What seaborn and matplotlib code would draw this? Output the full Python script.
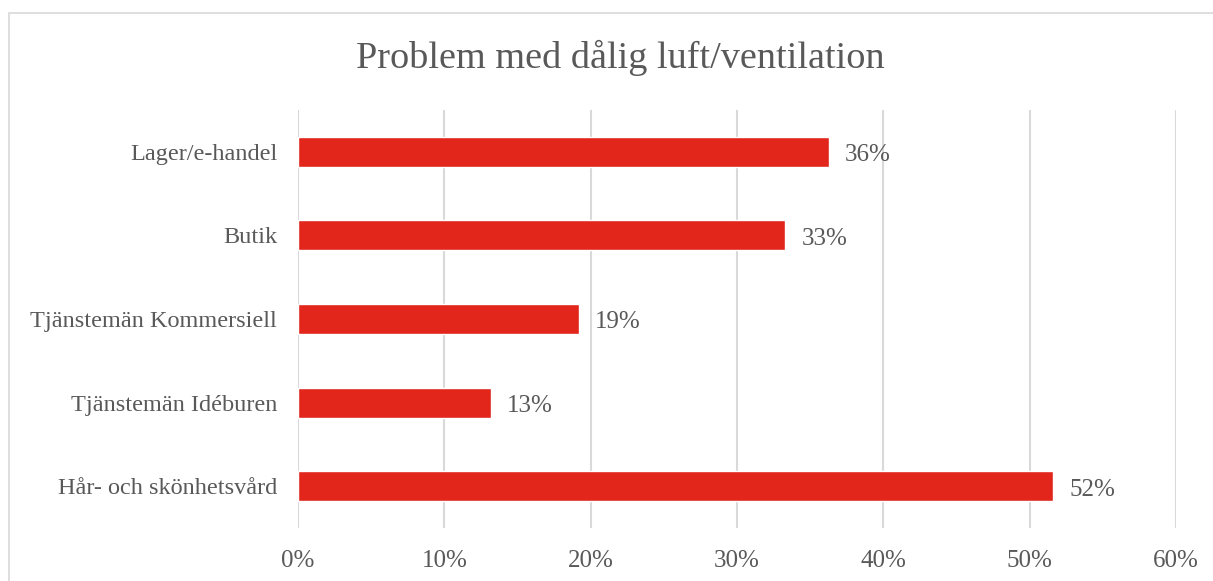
import matplotlib.pyplot as plt
import matplotlib.patches as mpatches
import pandas as pd
import seaborn as sns

# Data (share of respondents, %)
categories = ["Lager/e-handel", "Butik", "Tjänstemän Kommersiell",
              "Tjänstemän Idéburen", "Hår- och skönhetsvård"]
values = [36.3, 33.3, 19.2, 13.2, 51.6]
labels = ["36%", "33%", "19%", "13%", "52%"]
ticks = [0, 10, 20, 30, 40, 50, 60]

df = pd.DataFrame({"kategori": categories, "andel": values})

sns.set_theme(style="white")
plt.rcParams["font.family"] = ["Liberation Serif", "DejaVu Serif"]
grey = "#595959"

fig = plt.figure(figsize=(12.13, 5.81), dpi=100)
ax = fig.add_axes([298 / 1213, 1 - 528 / 581, 878 / 1213, 418 / 581])

sns.barplot(data=df, x="andel", y="kategori", color="#E2261C",
            saturation=1, width=0.36, ax=ax, zorder=3)

anns = ax.bar_label(ax.containers[0], labels=labels, padding=11.5,
                    fontsize=18, color=grey)
for a in anns:
    a.xyann = (11.5, -2.5)

ax.set_xlim(0, 60)
ax.set_ylim(4.5, -0.5)
ax.set_xticks(ticks)
ax.set_xticklabels([f"{t}%" for t in ticks], fontsize=18, color=grey)
ax.tick_params(axis="y", labelsize=17.5, labelcolor=grey, pad=15, length=0)
ax.tick_params(axis="x", pad=16, length=0)
ax.set_xlabel("")
ax.set_ylabel("")
ax.xaxis.grid(True, color="#D9D9D9", linewidth=1.5, zorder=0)
for s in ax.spines.values():
    s.set_visible(False)

fig.text(620 / 1213, 1 - 58 / 581, "Problem med dålig luft/ventilation",
         ha="center", va="center", fontsize=27.5, color=grey)

# outer chart border
fig.patches.append(mpatches.Rectangle(
    (9 / 1213, -0.1), 1.2, 1 - 13 / 581 + 0.1, transform=fig.transFigure,
    fill=False, edgecolor="#D9D9D9", linewidth=1.2))

fig.savefig("out.png", dpi=100)
